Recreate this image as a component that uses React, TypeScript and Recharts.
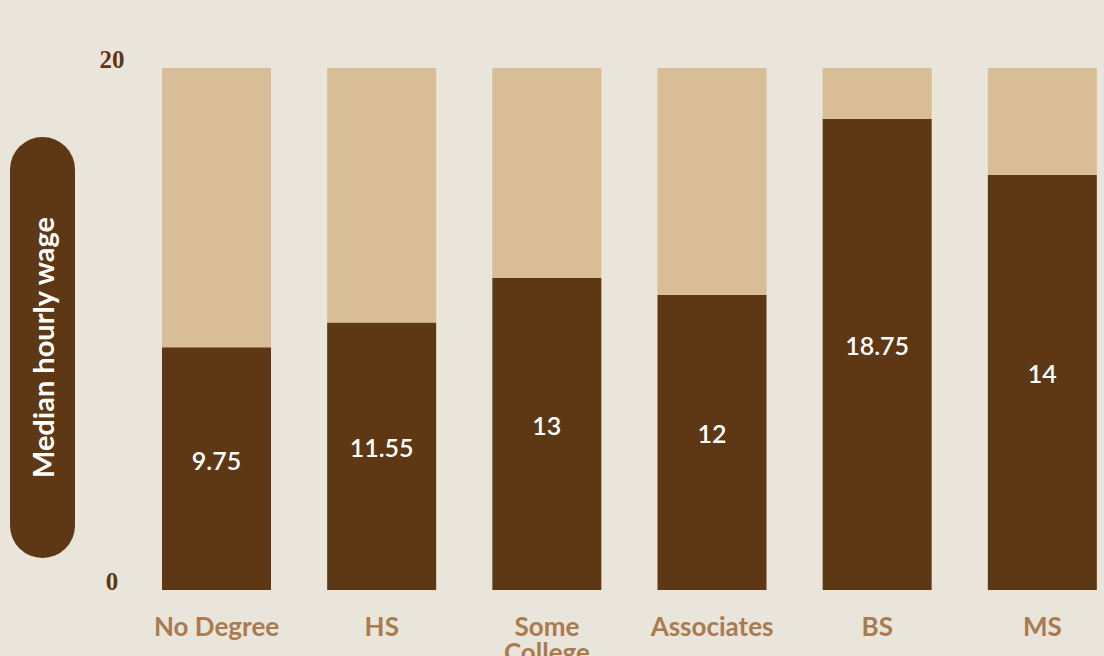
import React from 'react'
import { BarChart, Bar, XAxis, YAxis, LabelList } from 'recharts'

// education level categories
const categories = ['No Degree', 'HS', 'Some College', 'Associates', 'BS', 'MS']
// bar heights as drawn in the picture
const barValues = [9.3, 10.25, 11.95, 11.3, 18.05, 15.9]
// wage printed inside each bar
const wageLabels = ['9.75', '11.55', '13', '12', '18.75', '14']
const yTicks = [0, 20]
const axisMax = 20

const data = categories.map((name, i) => ({
  name,
  wage: barValues[i],
  rest: axisMax - barValues[i],
  label: wageLabels[i],
}))

const BG = '#eae5db'
const DARK = '#5e3815'
const TAN = '#d9bd96'
const LABEL = '#a97b50'

function YTick({ x, y, payload }: any) {
  return (
    <text
      x={x - 14}
      y={y - 9}
      textAnchor="middle"
      dominantBaseline="central"
      fill={DARK}
      fontFamily="'Liberation Serif', serif"
      fontWeight="bold"
      fontSize={25}
    >
      {payload.value}
    </text>
  )
}

// long names break onto two lines, like "Some / College"
function XTick({ x, y, payload }: any) {
  const name: string = payload.value
  const lines = name.length > 10 ? name.split(' ') : [name]
  return (
    <text
      x={x}
      y={y + 38}
      textAnchor="middle"
      fill={LABEL}
      fontFamily="Lato, sans-serif"
      fontWeight="bold"
      fontSize={26}
    >
      {lines.map((line, i) => (
        <tspan key={i} x={x} dy={i === 0 ? 0 : 26}>
          {line}
        </tspan>
      ))}
    </text>
  )
}

export default function App() {
  return (
    <div
      style={{
        position: 'absolute',
        left: 0,
        top: 0,
        width: 1104,
        height: 656,
        overflow: 'hidden',
        background: BG,
      }}
    >
      <div
        style={{
          position: 'absolute',
          left: 10,
          top: 137,
          width: 65,
          height: 421,
          borderRadius: 33,
          background: DARK,
          display: 'flex',
          alignItems: 'center',
          justifyContent: 'center',
        }}
      >
        <span
          style={{
            transform: 'rotate(-90deg)',
            whiteSpace: 'nowrap',
            color: '#fff',
            fontFamily: 'Lato, sans-serif',
            fontWeight: 'bold',
            fontSize: 29,
          }}
        >
          Median hourly wage
        </span>
      </div>
      <BarChart
        width={1130}
        height={656}
        data={data}
        margin={{ top: 68, right: 5, bottom: 6, left: 0 }}
        barSize={109}
      >
        <XAxis
          dataKey="name"
          axisLine={false}
          tickLine={false}
          interval={0}
          height={60}
          tick={<XTick />}
        />
        <YAxis
          domain={[0, axisMax]}
          ticks={yTicks}
          axisLine={false}
          tickLine={false}
          width={134}
          tick={<YTick />}
        />
        <Bar dataKey="wage" stackId="a" fill={DARK} isAnimationActive={false}>
          <LabelList
            dataKey="label"
            position="center"
            dy={-8}
            fill="#fff"
            fontFamily="Lato, sans-serif"
            fontWeight={600}
            fontSize={25}
          />
        </Bar>
        <Bar dataKey="rest" stackId="a" fill={TAN} isAnimationActive={false} />
      </BarChart>
    </div>
  )
}
